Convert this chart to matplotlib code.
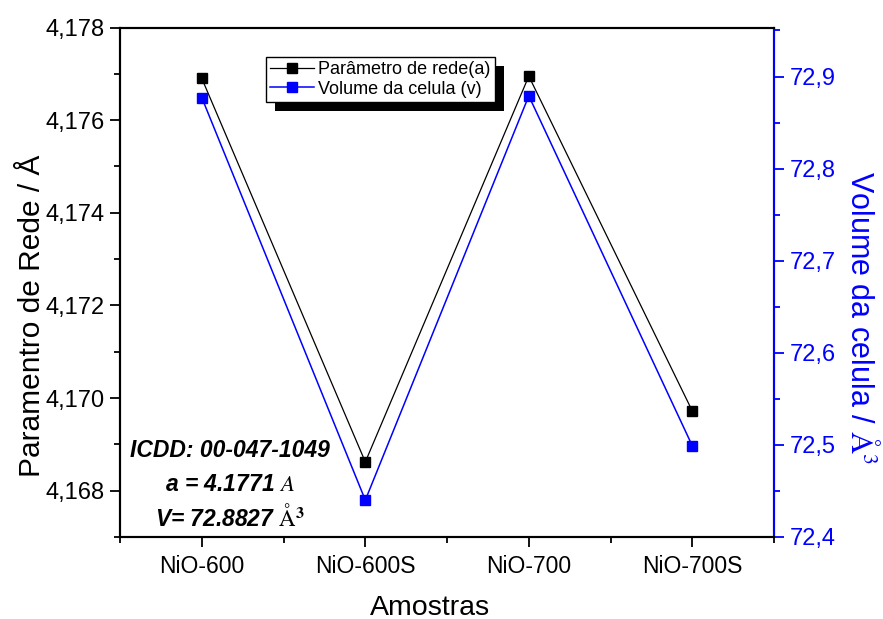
import matplotlib
matplotlib.use('Agg')
import matplotlib.pyplot as plt
import matplotlib.ticker as ticker
from matplotlib.patches import Rectangle
from matplotlib.transforms import IdentityTransform

plt.rcParams['font.family'] = ['Liberation Sans', 'DejaVu Sans']
plt.rcParams['mathtext.fontset'] = 'stix'

amostras = ['NiO-600', 'NiO-600S', 'NiO-700', 'NiO-700S']
parametro_rede = [4.17690, 4.16862, 4.17695, 4.16972]
volume_celula = [72.877, 72.440, 72.879, 72.499]

blue = '#0000ff'
x = list(range(len(amostras)))

fig = plt.figure(figsize=(8.83, 6.19), dpi=100)
ax = fig.add_axes([0.136, 0.1325, 0.7406, 0.823])
ax2 = ax.twinx()

l1, = ax.plot(x, parametro_rede, color='black', lw=0.9, marker='s', ms=7,
              label='Parâmetro de rede(a)')
l2, = ax2.plot(x, volume_celula, color=blue, lw=1.1, marker='s', ms=7,
               label='Volume da celula (v)')

ax.set_xlim(-0.5, 3.5)
ax.set_ylim(4.167, 4.178)
ax2.set_ylim(72.4, 72.9532)

ax.set_xticks(x)
ax.set_xticklabels(amostras)
ax.xaxis.set_minor_locator(ticker.FixedLocator([-0.5, 0.5, 1.5, 2.5, 3.5]))
ax.yaxis.set_major_locator(ticker.MultipleLocator(0.002))
ax.yaxis.set_minor_locator(ticker.MultipleLocator(0.001))
ax2.yaxis.set_major_locator(ticker.MultipleLocator(0.1))
ax2.yaxis.set_minor_locator(ticker.MultipleLocator(0.05))

ax.yaxis.set_major_formatter(ticker.FuncFormatter(lambda v, p: f'{v:.3f}'.replace('.', ',')))
ax2.yaxis.set_major_formatter(ticker.FuncFormatter(lambda v, p: f'{v:.1f}'.replace('.', ',')))

for a in (ax, ax2):
    for s in a.spines.values():
        s.set_linewidth(1.5)
ax2.spines['right'].set_color(blue)

ax.tick_params(axis='both', which='major', direction='out', length=7, width=1.3,
               labelsize=17, pad=4)
ax.tick_params(axis='both', which='minor', direction='out', length=4, width=1.3)
ax.tick_params(axis='x', which='major', labelsize=16.5, pad=6)
ax.tick_params(top=False, right=False, which='both')
ax2.tick_params(axis='y', which='major', direction='out', length=7, width=1.3,
                labelsize=17, colors=blue, pad=4)
ax2.tick_params(axis='y', which='minor', direction='out', length=4, width=1.3, colors=blue)

ax.set_xlabel('Amostras', fontsize=20.5, labelpad=12)
ax.xaxis.label.set_x(0.474)
ax.set_ylabel('Paramentro de Rede / Å', fontsize=21.5, labelpad=0)
ax.yaxis.label.set_y(0.434)
ax2.set_ylabel(r'Volume da celula / $\mathrm{\AA}^3$', fontsize=22, color=blue,
               rotation=-90, labelpad=30)
ax2.yaxis.label.set_y(0.43)

ax.text(0.168, 0.17, 'ICDD: 00-047-1049', transform=ax.transAxes, ha='center',
        va='center', fontsize=16.5, fontweight='bold', style='italic')
ax.text(0.168, 0.104, r'a = 4.1771 $\mathit{A}$', transform=ax.transAxes, ha='center',
        va='center', fontsize=16.5, fontweight='bold', style='italic')
ax.text(0.168, 0.038, r'V= 72.8827 $\mathrm{\AA}^{\mathbf{3}}$', transform=ax.transAxes,
        ha='center', va='center', fontsize=16.5, fontweight='bold', style='italic')

leg = ax2.legend(handles=[l1, l2], loc='upper left', bbox_to_anchor=(0.223, 0.943),
                 fontsize=13, frameon=True, fancybox=False, edgecolor='black',
                 framealpha=1, borderpad=0.25, handlelength=2.4, handletextpad=0.25,
                 labelspacing=0.15, borderaxespad=0)
leg.get_frame().set_linewidth(1.0)
leg.set_zorder(6)

# black drop shadow behind the legend box
fig.canvas.draw()
bb = leg.get_window_extent()
shadow = Rectangle((bb.x0 + 9, bb.y0 - 9), bb.width, bb.height,
                   transform=IdentityTransform(), facecolor='black',
                   edgecolor='none', zorder=5.5)
ax2.add_artist(shadow)

fig.savefig('out.png', dpi=100)
